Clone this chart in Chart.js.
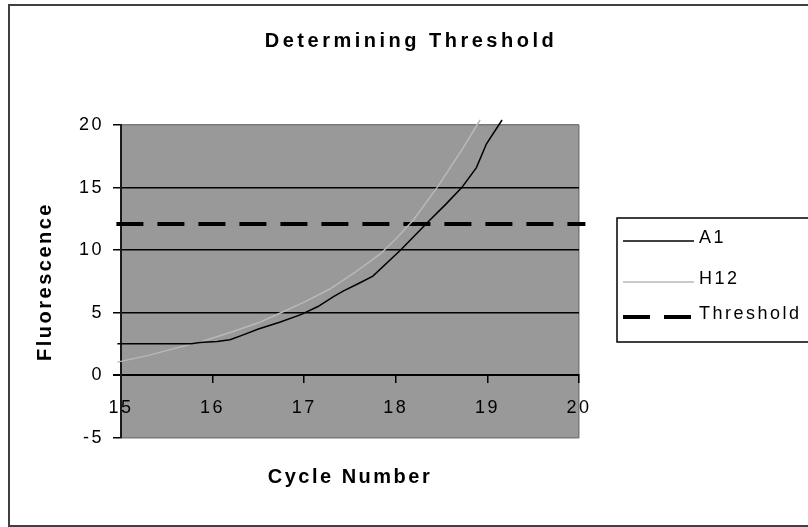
<!DOCTYPE html>
<html>
<head>
<meta charset="utf-8">
<title>Determining Threshold</title>
<script src="https://cdn.jsdelivr.net/npm/chart.js@4/dist/chart.umd.min.js"></script>
<style>
  html, body { margin: 0; padding: 0; background: #fff; }
  canvas { display: block; }
</style>
</head>
<body>
<canvas id="thresholdChart" width="808" height="527"></canvas>
<script>
const chartTitle = 'Determining Threshold';
const xTitle = 'Cycle Number';
const yTitle = 'Fluorescence';

// A1 well (cycle, fluorescence)
const a1Cycles = [14.96, 15.77, 15.86, 16.05, 16.19, 16.32, 16.5, 16.74, 16.97, 17.15, 17.32, 17.43, 17.61, 17.75, 18.05, 18.37, 18.55, 18.72, 18.88, 18.99, 19.16];
const a1Values = [2.53, 2.53, 2.62, 2.7, 2.85, 3.2, 3.7, 4.26, 4.87, 5.5, 6.3, 6.75, 7.4, 7.93, 10.0, 12.4, 13.7, 15.0, 16.6, 18.5, 20.4];

// H12 well
const h12Cycles = [14.96, 15.3, 15.64, 15.86, 16.2, 16.5, 16.74, 17.0, 17.28, 17.55, 17.83, 18.0, 18.19, 18.45, 18.72, 18.92];
const h12Values = [1.06, 1.6, 2.26, 2.66, 3.45, 4.2, 4.98, 5.85, 6.9, 8.2, 9.7, 10.9, 12.4, 15.0, 18.0, 20.4];

// threshold level, drawn a little past both ends of the plot
const thresholdCycles = [14.95, 20.07];
const thresholdValue = 12.1;

const xTicks = [15, 16, 17, 18, 19, 20];
const yTicks = [-5, 0, 5, 10, 15, 20];

const FONT = "'Liberation Sans', Arial, sans-serif";
const PLOT_BG = '#999999';
const EDGE = '#7a7a7a';

function toPoints(xs, ys) {
    return xs.map((x, i) => ({ x: x, y: ys[i] }));
}

// white page, outer frame and grey plot area
const backdrop = {
    id: 'backdrop',
    beforeDraw(chart) {
        const { ctx, chartArea } = chart;
        ctx.save();
        ctx.fillStyle = '#fff';
        ctx.fillRect(0, 0, chart.width, chart.height);
        ctx.fillStyle = PLOT_BG;
        ctx.fillRect(chartArea.left, chartArea.top, chartArea.right - chartArea.left, chartArea.bottom - chartArea.top);
        ctx.restore();
        // axis text is spaced out a little
        ctx.letterSpacing = '2.5px';
    },
    afterDraw(chart) {
        const ctx = chart.ctx;
        ctx.save();
        ctx.strokeStyle = '#404040';
        ctx.lineWidth = 2;
        ctx.strokeRect(9, 5, 830, 521);

        // title
        ctx.letterSpacing = '3.5px';
        ctx.fillStyle = '#000';
        ctx.font = 'bold 20px ' + FONT;
        ctx.textAlign = 'center';
        ctx.textBaseline = 'middle';
        ctx.fillText(chartTitle, 411, 41);
        ctx.restore();
    }
};

// boxed legend to the right of the plot
const boxLegend = {
    id: 'boxLegend',
    afterDraw(chart) {
        const ctx = chart.ctx;
        const rows = [241, 282, 317];
        ctx.save();
        ctx.strokeStyle = '#000';
        ctx.lineWidth = 1.5;
        ctx.strokeRect(617, 218, 220, 124);
        ctx.font = '18px ' + FONT;
        ctx.letterSpacing = '2.5px';
        ctx.textBaseline = 'middle';
        ctx.textAlign = 'left';
        chart.data.datasets.forEach((ds, i) => {
            const y = rows[i];
            ctx.beginPath();
            ctx.strokeStyle = ds.borderColor;
            ctx.lineWidth = ds.borderWidth;
            ctx.setLineDash(ds.borderDash || []);
            ctx.moveTo(623, y);
            ctx.lineTo(694, y);
            ctx.stroke();
            ctx.fillStyle = '#000';
            ctx.fillText(ds.label, 699, y - 3);
        });
        ctx.restore();
    }
};

const ctx = document.getElementById('thresholdChart').getContext('2d');
new Chart(ctx, {
    type: 'line',
    data: {
        datasets: [
            {
                label: 'A1',
                data: toPoints(a1Cycles, a1Values),
                borderColor: '#000000',
                borderWidth: 1.5,
                pointRadius: 0,
                clip: false
            },
            {
                label: 'H12',
                data: toPoints(h12Cycles, h12Values),
                borderColor: '#b9b9b9',
                borderWidth: 1.5,
                pointRadius: 0,
                clip: false
            },
            {
                label: 'Threshold',
                data: thresholdCycles.map(x => ({ x: x, y: thresholdValue })),
                borderColor: '#000000',
                borderWidth: 4,
                borderDash: [27, 14],
                pointRadius: 0,
                clip: false
            }
        ]
    },
    options: {
        responsive: false,
        animation: false,
        layout: { padding: { top: 125, left: 30, right: 229, bottom: 38 } },
        plugins: {
            legend: { display: false },
            title: { display: false },
            tooltip: { enabled: false }
        },
        scales: {
            x: {
                type: 'linear',
                position: { y: 0 },
                min: 15,
                max: 20,
                afterBuildTicks: scale => { scale.ticks = xTicks.map(v => ({ value: v })); },
                grid: {
                    color: c => (c.tick && c.tick.value === 20) ? EDGE : 'rgba(0,0,0,0)',
                    tickColor: '#000',
                    tickLength: 7,
                    lineWidth: 1.5
                },
                border: { color: '#000', width: 2 },
                ticks: {
                    color: '#000',
                    padding: 15,
                    maxRotation: 0,
                    autoSkip: false,
                    font: { family: FONT, size: 18 }
                }
            },
            xt: {
                type: 'linear',
                position: 'bottom',
                min: 15,
                max: 20,
                afterFit: scale => { scale.height = 51; },
                ticks: { display: false },
                grid: { display: false },
                border: { display: false },
                title: {
                    display: true,
                    text: xTitle,
                    color: '#000',
                    padding: 0,
                    font: { family: FONT, size: 20, weight: 'bold' }
                }
            },
            y: {
                min: -5,
                max: 20,
                afterBuildTicks: scale => { scale.ticks = yTicks.map(v => ({ value: v })); },
                afterFit: scale => { scale.width = 91; },
                grid: {
                    color: c => (c.tick.value === 20 || c.tick.value === -5) ? EDGE : '#000',
                    lineWidth: c => c.tick.value === 0 ? 2 : 1.5,
                    tickColor: '#000',
                    tickLength: 8
                },
                border: { color: '#1a1a1a', width: 2 },
                ticks: {
                    color: '#000',
                    padding: 9,
                    font: { family: FONT, size: 18 }
                },
                title: {
                    display: true,
                    text: yTitle,
                    color: '#000',
                    padding: { top: 3, bottom: 0 },
                    font: { family: FONT, size: 20, weight: 'bold' }
                }
            }
        }
    },
    plugins: [backdrop, boxLegend]
});
</script>
</body>
</html>
